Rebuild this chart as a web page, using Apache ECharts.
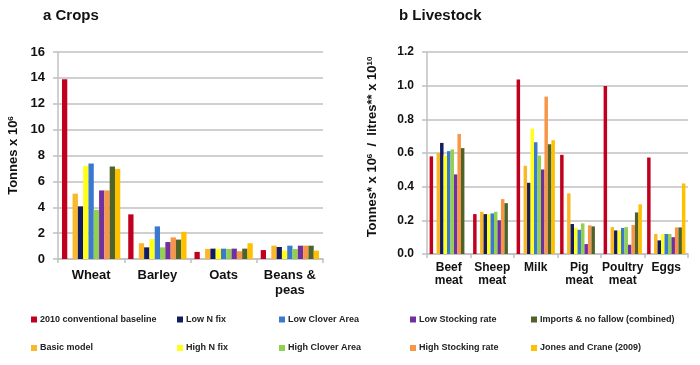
<!DOCTYPE html>
<html>
<head>
<meta charset="utf-8">
<script src="https://cdn.jsdelivr.net/npm/echarts@6/dist/echarts.min.js"></script>
<style>html,body{margin:0;padding:0;background:#fff}#c{width:700px;height:365px}</style>
</head>
<body>
<div id="c"></div>
<script>
const cropCategories = ['Wheat', 'Barley', 'Oats', 'Beans &\npeas'];
const livestockCategories = ['Beef\nmeat', 'Sheep\nmeat', 'Milk', 'Pig\nmeat', 'Poultry\nmeat', 'Eggs'];
const cropTicks = [0, 16, 2];
const livestockTicks = [0, 1.2, 0.2];

const seriesNames = ['2010 conventional baseline', 'Basic model', 'Low N fix', 'High N fix', 'Low Clover Area',
  'High Clover Area', 'Low Stocking rate', 'High Stocking rate', 'Imports & no fallow (combined)', 'Jones and Crane (2009)'];
const seriesColors = ['#C0001E', '#F9B829', '#121C5E', '#FFFF1A', '#3B79CF', '#92D050', '#7030A0', '#F79646', '#4F6228', '#FFC000'];

// Crops (Tonnes x 10^6): Wheat, Barley, Oats, Beans & peas
const cropBaseline   = [13.9, 3.45, 0.55, 0.69];
const cropBasic      = [5.05, 1.22, 0.78, 1.03];
const cropLowN       = [4.07, 0.90, 0.80, 0.93];
const cropHighN      = [7.20, 1.54, 0.78, 0.66];
const cropLowClover  = [7.38, 2.52, 0.80, 1.03];
const cropHighClover = [3.80, 0.90, 0.78, 0.77];
const cropLowStock   = [5.30, 1.31, 0.80, 1.03];
const cropHighStock  = [5.30, 1.67, 0.60, 1.03];
const cropImports    = [7.15, 1.50, 0.80, 1.03];
const cropJones      = [6.97, 2.10, 1.22, 0.64];

// Livestock: Beef, Sheep, Milk, Pig, Poultry, Eggs
const lsBaseline   = [0.58, 0.237, 1.036, 0.589, 0.998, 0.573];
const lsBasic      = [0.60, 0.251, 0.524, 0.36, 0.16, 0.119];
const lsLowN       = [0.66, 0.237, 0.423, 0.178, 0.14, 0.081];
const lsHighN      = [0.585, 0.237, 0.745, 0.156, 0.14, 0.119];
const lsLowClover  = [0.611, 0.241, 0.664, 0.144, 0.155, 0.119];
const lsHighClover = [0.621, 0.251, 0.585, 0.182, 0.16, 0.119];
const lsLowStock   = [0.473, 0.20, 0.502, 0.059, 0.055, 0.10];
const lsHighStock  = [0.713, 0.326, 0.935, 0.17, 0.172, 0.158];
const lsImports    = [0.629, 0.302, 0.652, 0.164, 0.247, 0.158];
const lsJones      = [null, null, 0.676, null, 0.295, 0.419];

const cropData = [cropBaseline, cropBasic, cropLowN, cropHighN, cropLowClover, cropHighClover, cropLowStock, cropHighStock, cropImports, cropJones];
const lsData = [lsBaseline, lsBasic, lsLowN, lsHighN, lsLowClover, lsHighClover, lsLowStock, lsHighStock, lsImports, lsJones];

const FONT = 'Liberation Sans, Arial, sans-serif';
const gridColor = '#c0c0c0';

function makeSeries(dataSets, axisIndex, n) {
  const out = [];
  dataSets.forEach((d, i) => {
    out.push({
      type: 'bar', name: seriesNames[i], xAxisIndex: axisIndex, yAxisIndex: axisIndex,
      data: d, barGap: '0%', barCategoryGap: '12%',
      itemStyle: { color: seriesColors[i] }, emphasis: { disabled: true }, silent: true
    });
    if (i === 0) {
      // empty slot between baseline and the model variants
      out.push({
        type: 'bar', name: 'gap' + axisIndex, xAxisIndex: axisIndex, yAxisIndex: axisIndex,
        data: new Array(n).fill(null), barGap: '0%', barCategoryGap: '12%', silent: true
      });
    }
  });
  return out;
}

const legendCols = [31, 177, 279, 410, 531];
const legendRows = [315, 343.5];
const legends = [];
// legend laid out column-wise: (baseline, basic), (lowN, highN), ...
seriesNames.forEach((nm, i) => {
  const col = Math.floor(i / 2), row = i % 2;
  legends.push({
    data: [nm], left: legendCols[col], top: legendRows[row], padding: 0,
    icon: 'rect', itemWidth: 6, itemHeight: 6, selectedMode: false,
    textStyle: { fontSize: 9, fontWeight: 'bold', color: '#222', fontFamily: FONT, padding: [0, 0, 0, -2] }
  });
});

function yAxisCommon(ticks, grid, name, nameGap, fmt, labelSize, namePad) {
  return {
    type: 'value', gridIndex: grid, min: ticks[0], max: ticks[1], interval: ticks[2],
    name: name, nameLocation: 'middle', nameGap: nameGap, nameRotate: 90,
    nameTextStyle: { fontSize: 13, fontWeight: 'bold', color: '#111', fontFamily: FONT, padding: namePad,
      rich: { s: { fontSize: 8, fontWeight: 'bold', color: '#111', fontFamily: FONT, verticalAlign: 'top', lineHeight: 10 } } },
    axisLine: { show: true, lineStyle: { color: gridColor, width: 1.5 } },
    axisTick: { show: true, length: 5, lineStyle: { color: gridColor, width: 1.5 } },
    splitLine: { show: true, lineStyle: { color: gridColor, width: 1.5 } },
    axisLabel: { margin: 13, fontSize: labelSize, fontWeight: 'bold', color: '#111', fontFamily: FONT, formatter: fmt }
  };
}

function xAxisCommon(cats, grid, size, lh, margin) {
  return {
    type: 'category', gridIndex: grid, data: cats,
    axisLine: { lineStyle: { color: gridColor, width: 1.5 } },
    axisTick: { show: true, length: 4, lineStyle: { color: gridColor, width: 1.5 } },
    axisLabel: { margin: margin, fontSize: size, lineHeight: lh, fontWeight: 'bold', color: '#111', fontFamily: FONT, interval: 0 }
  };
}

const option = {
  animation: false,
  backgroundColor: '#fff',
  title: [
    { text: 'a Crops', left: 43, top: 8, padding: 0, textStyle: { fontSize: 15, fontWeight: 'bold', color: '#111', fontFamily: FONT } },
    { text: 'b Livestock', left: 399, top: 8, padding: 0, textStyle: { fontSize: 15, fontWeight: 'bold', color: '#111', fontFamily: FONT } }
  ],
  legend: legends,
  grid: [
    { left: 58, right: 377, top: 52, bottom: 106 },
    { left: 427, right: 12, top: 52, bottom: 111 }
  ],
  xAxis: [
    xAxisCommon(cropCategories, 0, 13, 15, 9),
    xAxisCommon(livestockCategories, 1, 12, 13, 7)
  ],
  yAxis: [
    yAxisCommon(cropTicks, 0, 'Tonnes x 10{s|6}', 38, v => String(v), 13, [0, 0, 0, 0]),
    yAxisCommon(livestockTicks, 1, 'Tonnes* x 10{s|6}  /  litres** x 10{s|10}', 48, v => v.toFixed(1), 12, [0, 0, 0, 12])
  ],
  series: makeSeries(cropData, 0, cropCategories.length).concat(makeSeries(lsData, 1, livestockCategories.length))
};

const chart = echarts.init(document.getElementById('c'), null, { renderer: 'canvas' });
chart.setOption(option);
</script>
</body>
</html>
